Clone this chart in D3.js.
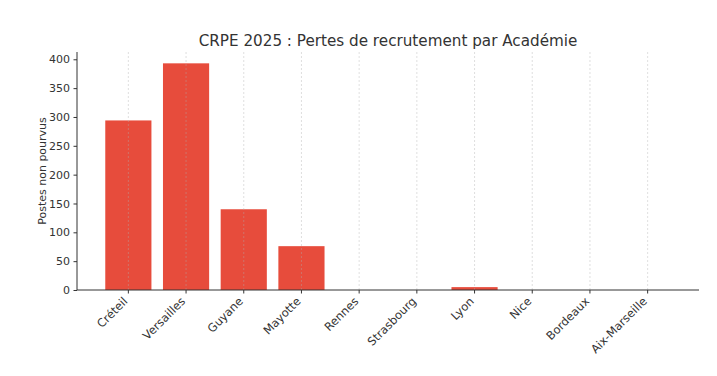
<!DOCTYPE html>
<html><head><meta charset="utf-8">
<script src="https://cdn.jsdelivr.net/npm/d3@7"></script>
<style>body{margin:0;background:#fff}svg{font-family:"DejaVu Sans",sans-serif}</style>
</head><body>
<svg id="c" width="717" height="376"></svg>
<script>
const categories = ["Créteil","Versailles","Guyane","Mayotte","Rennes","Strasbourg","Lyon","Nice","Bordeaux","Aix-Marseille"];
const values = [294, 393, 140, 76, 0, 0, 5, 0, 0, 0];
const yTicks = [0,50,100,150,200,250,300,350,400];
const title = "CRPE 2025 : Pertes de recrutement par Académie";
const yLabel = "Postes non pourvus";

const svg = d3.select("#c");
const L = 77, R = 699, T = 52, B = 290;
const n = categories.length;
const x = d3.scaleLinear().domain([-0.4 - 0.049*n, n - 0.6 + 0.049*n]).range([L, R]);
const ymax = d3.max(values) * 1.05;
const y = d3.scaleLinear().domain([0, ymax]).range([B, T]);
const bw = x(0.8) - x(0);

svg.selectAll("rect.bar").data(values).join("rect")
  .attr("x", (d,i) => x(i) - bw/2).attr("width", bw)
  .attr("y", d => y(d)).attr("height", d => B - y(d))
  .attr("fill", "#e74c3c");

// vertical grid
svg.selectAll("line.grid").data(categories).join("line")
  .attr("x1", (d,i)=>x(i)).attr("x2",(d,i)=>x(i))
  .attr("y1", T).attr("y2", B)
  .attr("stroke", "#b0b0b0").attr("stroke-opacity", 0.5)
  .attr("stroke-width", 0.8).attr("stroke-dasharray", "2,2");

// y axis
const yAxis = d3.axisLeft(y).tickValues(yTicks).tickSize(3.5).tickPadding(3.5);
const gy = svg.append("g").attr("transform", `translate(${L},0)`).call(yAxis);
gy.select(".domain").attr("d", `M0,${T}V${B}`).attr("stroke", "#333").attr("stroke-width", 1);
gy.selectAll(".tick line").attr("stroke", "#333");
gy.selectAll("text").attr("font-size", 11).attr("fill", "#333").attr("font-family", "DejaVu Sans");

// x axis
const gx = svg.append("g").attr("transform", `translate(0,${B})`);
gx.append("line").attr("x1", L).attr("x2", R).attr("stroke", "#333").attr("stroke-width", 1);
gx.selectAll("line.t").data(categories).join("line")
  .attr("x1",(d,i)=>x(i)).attr("x2",(d,i)=>x(i)).attr("y1",0).attr("y2",3.5)
  .attr("stroke","#333");
gx.selectAll("text").data(categories).join("text")
  .attr("transform",(d,i)=>`translate(${x(i)},${12}) rotate(-45)`)
  .attr("text-anchor","end").attr("font-size",11.5).attr("fill","#333")
  .text(d=>d);

svg.append("text").attr("x", 388).attr("y", 46).attr("text-anchor","middle")
  .attr("font-size", 15.2).attr("fill","#333").text(title);
svg.append("text").attr("transform", `translate(46,${(T+B)/2}) rotate(-90)`)
  .attr("text-anchor","middle").attr("font-size", 11).attr("fill","#333").text(yLabel);
</script>
</body></html>
